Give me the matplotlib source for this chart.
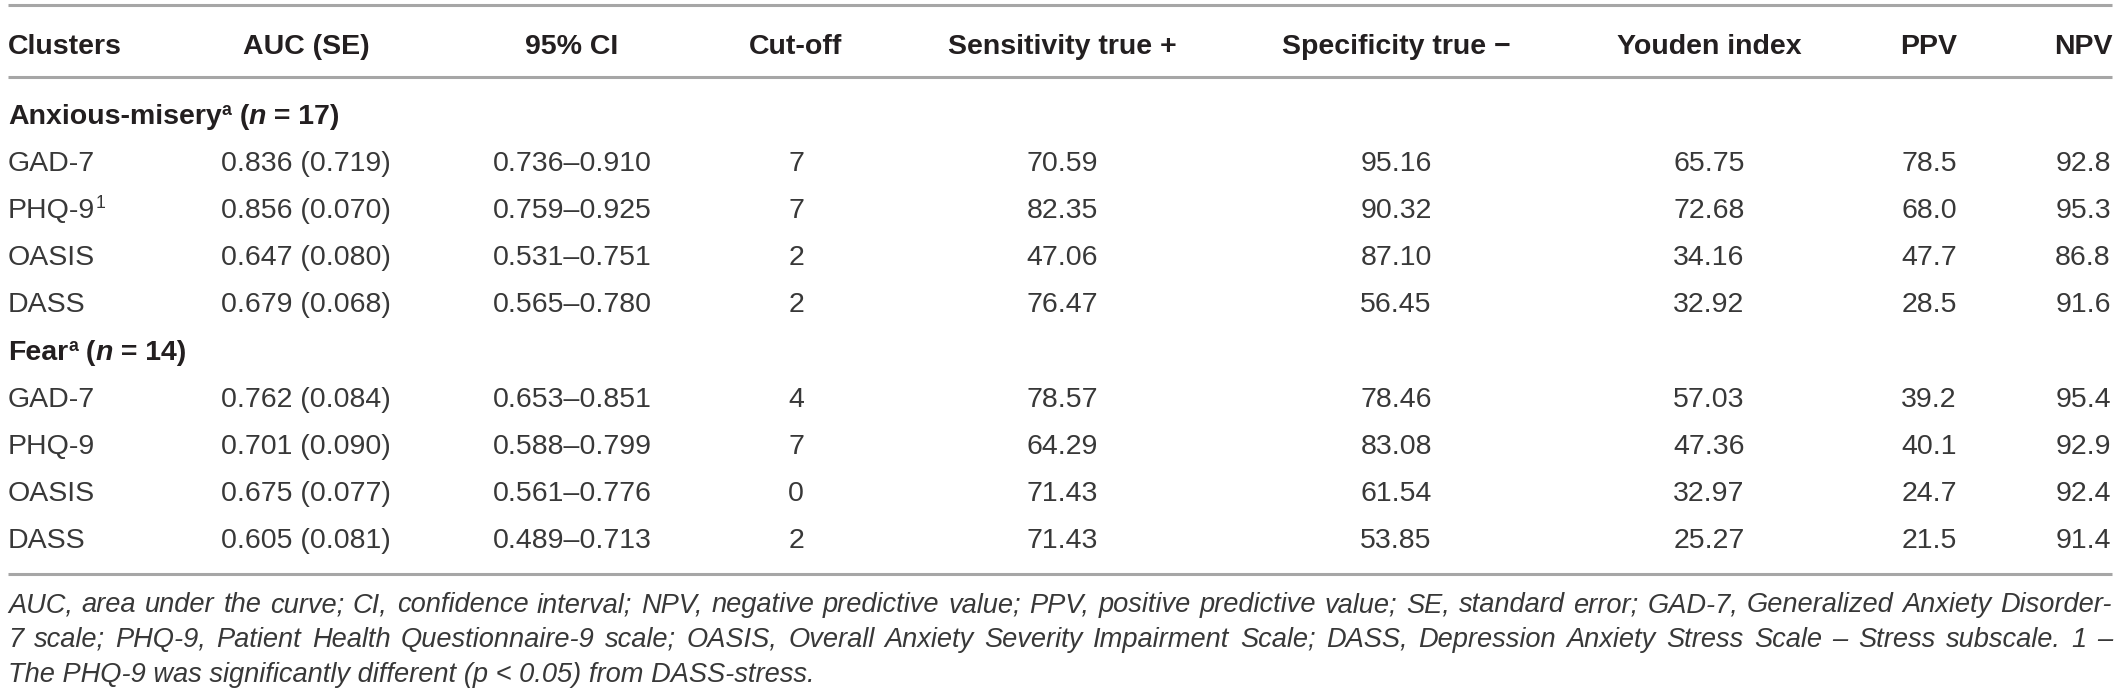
import matplotlib
matplotlib.use("Agg")
import matplotlib.pyplot as plt

# table data
groups = ["Anxious-misery", "Fear"]
group_n = [17, 14]
scales = ["GAD-7", "PHQ-9", "OASIS", "DASS"]
auc = [[0.836, 0.856, 0.647, 0.679], [0.762, 0.701, 0.675, 0.605]]
se = [[0.719, 0.070, 0.080, 0.068], [0.084, 0.090, 0.077, 0.081]]
ci_low = [[0.736, 0.759, 0.531, 0.565], [0.653, 0.588, 0.561, 0.489]]
ci_high = [[0.910, 0.925, 0.751, 0.780], [0.851, 0.799, 0.776, 0.713]]
cutoff = [[7, 7, 2, 2], [4, 7, 0, 2]]
sens = [[70.59, 82.35, 47.06, 76.47], [78.57, 64.29, 71.43, 71.43]]
spec = [[95.16, 90.32, 87.10, 56.45], [78.46, 83.08, 61.54, 53.85]]
youden = [[65.75, 72.68, 34.16, 32.92], [57.03, 47.36, 32.97, 25.27]]
ppv = [[78.5, 68.0, 47.7, 28.5], [39.2, 40.1, 24.7, 21.5]]
npv = [[92.8, 95.3, 86.8, 91.6], [95.4, 92.9, 92.4, 91.4]]

headers = ["Clusters", "AUC (SE)", "95% CI", "Cut-off", "Sensitivity true +",
           "Specificity true \u2212", "Youden index", "PPV", "NPV"]
col_x = [8, 306, 572, 796, 1062, 1396, 1709, 1929, 2083]

notes = [
    "AUC, area under the curve; CI, confidence interval; NPV, negative predictive value; "
    "PPV, positive predictive value; SE, standard error; GAD-7, Generalized Anxiety Disorder-",
    "7 scale; PHQ-9, Patient Health Questionnaire-9 scale; OASIS, Overall Anxiety Severity "
    "Impairment Scale; DASS, Depression Anxiety Stress Scale \u2013 Stress subscale. 1 \u2013",
    "The PHQ-9 was significantly different (p < 0.05) from DASS-stress.",
]

plt.rcParams["font.family"] = ["Liberation Sans", "DejaVu Sans"]
ink = "#231f20"
val_ink = "#383838"
fs = 20.5

W, H = 2120, 697
fig = plt.figure(figsize=(W / 100, H / 100), dpi=100)
ax = fig.add_axes([0, 0, 1, 1])
ax.set_xlim(0, W)
ax.set_ylim(H, 0)
ax.axis("off")
rend = fig.canvas.get_renderer()


def runs(x, y, parts):
    # draw text pieces one after another on the same baseline
    for s, kw in parts:
        kw = dict(kw)
        dy = kw.pop("dy", 0)
        color = kw.pop("color", ink)
        t = ax.text(x, y - dy, s, va="baseline", ha="left", color=color, **kw)
        x += t.get_window_extent(renderer=rend).width


# rules
for yl in [5, 77, 574]:
    ax.plot([8, 2112], [yl, yl], color="#a6a6a6", lw=2.2, solid_capstyle="butt")

# header
ax.text(col_x[0], 54, headers[0], fontsize=fs, fontweight="bold", color=ink,
        va="baseline", ha="left")
for h, x in zip(headers[1:], col_x[1:]):
    ax.text(x, 54, h, fontsize=fs, fontweight="bold", color=ink,
            va="baseline", ha="center")

y = 124
step = 47.1
for g in range(len(groups)):
    b = dict(fontsize=fs, fontweight="bold")
    runs(col_x[0], y, [
        (groups[g], b),
        ("a", dict(fontsize=fs * 0.62, fontweight="bold", dy=9)),
        (" (", b),
        ("n", dict(fontsize=fs, fontweight="bold", fontstyle="italic")),
        (" = %d)" % group_n[g], b),
    ])
    y += step
    for i, name in enumerate(scales):
        r = dict(fontsize=fs, color=val_ink)
        if g == 0 and name == "PHQ-9":
            runs(col_x[0], y, [(name, dict(fontsize=fs, color=val_ink)),
                               ("1", dict(fontsize=fs * 0.62, dy=10, color=val_ink))])
        else:
            ax.text(col_x[0], y, name, va="baseline", ha="left", **r)
        cells = [
            "%.3f (%.3f)" % (auc[g][i], se[g][i]),
            "%.3f\u2013%.3f" % (ci_low[g][i], ci_high[g][i]),
            "%d" % cutoff[g][i],
            "%.2f" % sens[g][i],
            "%.2f" % spec[g][i],
            "%.2f" % youden[g][i],
            "%.1f" % ppv[g][i],
            "%.1f" % npv[g][i],
        ]
        for c, x in zip(cells, col_x[1:]):
            ax.text(x, y, c, va="baseline", ha="center", **r)
        y += step

# footnote: size chosen so the first line just fills the table width
left, right = 8, 2112
probe = ax.text(0, 0, notes[0], fontsize=10, fontstyle="italic")
nat = probe.get_window_extent(renderer=rend).width
probe.remove()
note_fs = 10 * (right - left) / nat * 0.99

note_y = [612, 647, 682]
for k, line in enumerate(notes):
    kw = dict(fontsize=note_fs, fontstyle="italic", color=val_ink, va="baseline", ha="left")
    if k < 2:
        words = line.split(" ")
        arts = [ax.text(0, note_y[k], w, **kw) for w in words]
        widths = [a.get_window_extent(renderer=rend).width for a in arts]
        gap = (right - left - sum(widths)) / (len(words) - 1)
        x = left
        for a, w in zip(arts, widths):
            a.set_x(x)
            x += w + gap
    else:
        ax.text(left, note_y[k], line, **kw)

fig.savefig("out.png", dpi=100)
